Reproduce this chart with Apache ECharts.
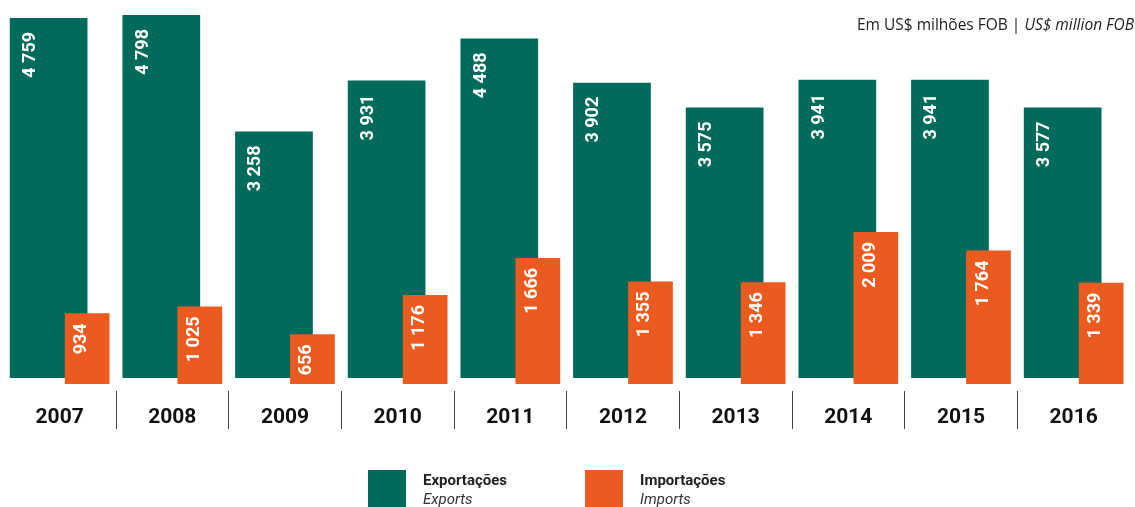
<!DOCTYPE html>
<html lang="pt">
<head>
    <meta charset="UTF-8">
    <title>Exportações e Importações</title>
    <script src="https://cdn.jsdelivr.net/npm/echarts@6/dist/echarts.min.js"></script>
    <style>
        html, body { margin: 0; padding: 0; background: #fff; }
        #chart { width: 1135px; height: 507px; }
    </style>
</head>
<body>
    <div id="chart"></div>
    <script>
        // dados (US$ milhões FOB)
        var years = ['2007', '2008', '2009', '2010', '2011', '2012', '2013', '2014', '2015', '2016'];
        var exportsData = [4759, 4798, 3258, 3931, 4488, 3902, 3575, 3941, 3941, 3577];
        var importsData = [934, 1025, 656, 1176, 1666, 1355, 1346, 2009, 1764, 1339];

        var green = '#006b5a';
        var orange = '#eb5b1f';

        // separador de milhares com espaço
        function fmt(p) {
            return String(p.value).replace(/\B(?=(\d{3})+(?!\d))/g, ' ');
        }

        var legendRich = {
            b: { fontSize: 15, fontWeight: 'bold', color: '#222', lineHeight: 19 },
            i: { fontSize: 15, fontStyle: 'italic', color: '#333', lineHeight: 19 }
        };

        var chart = echarts.init(document.getElementById('chart'));

        var option = {
            animation: false,
            textStyle: { fontFamily: 'Roboto' },
            title: {
                right: 1,
                top: 18,
                padding: 0,
                text: '{n|Em US$ milhões FOB | }{i|US$ million FOB}',
                textStyle: {
                    fontWeight: 'normal',
                    rich: {
                        n: { fontSize: 15.5, color: '#222', fontWeight: 'normal', fontFamily: 'Open Sans' },
                        i: { fontSize: 15.5, color: '#222', fontWeight: 'normal', fontStyle: 'italic', fontFamily: 'Open Sans' }
                    }
                }
            },
            legend: [{
                data: ['Exportações'],
                left: 368,
                top: 470,
                padding: 0,
                icon: 'rect',
                itemWidth: 38,
                itemHeight: 37,
                formatter: function (n) { return '{b|Exportações}\n{i|Exports}'; },
                textStyle: { padding: [4, 0, 0, 12], rich: legendRich }
            }, {
                data: ['Importações'],
                left: 585,
                top: 470,
                padding: 0,
                icon: 'rect',
                itemWidth: 38,
                itemHeight: 37,
                formatter: function (n) { return '{b|Importações}\n{i|Imports}'; },
                textStyle: { padding: [4, 0, 0, 12], rich: legendRich }
            }],
            grid: [
                { left: 3.3, right: 5, top: 15, bottom: 123 },
                { left: 3.3, right: 5, top: 391, height: 38 }
            ],
            xAxis: [{
                type: 'category',
                gridIndex: 0,
                data: years,
                axisLine: { show: false },
                axisTick: { show: false },
                axisLabel: {
                    margin: 23,
                    fontSize: 21,
                    fontWeight: 'bold',
                    color: '#111'
                }
            }, {
                type: 'category',
                gridIndex: 1,
                data: years,
                axisLine: { show: false },
                axisTick: { show: false },
                axisLabel: { show: false },
                splitLine: {
                    show: true,
                    showMinLine: false,
                    showMaxLine: false,
                    lineStyle: { color: '#444', width: 1 }
                }
            }],
            yAxis: [
                { type: 'value', gridIndex: 0, min: -79, max: 4798, show: false },
                { type: 'value', gridIndex: 0, min: 0, max: 4877, show: false },
                { type: 'value', gridIndex: 1, show: false }
            ],
            series: [{
                name: 'Exportações',
                type: 'bar',
                xAxisIndex: 0,
                yAxisIndex: 0,
                data: exportsData,
                barWidth: 77.7,
                barGap: '-29.2%',
                itemStyle: { color: green },
                label: {
                    show: true,
                    position: 'insideTop',
                    distance: 14,
                    rotate: 90,
                    align: 'right',
                    verticalAlign: 'middle',
                    offset: [0, -18],
                    color: '#fff',
                    fontSize: 18,
                    fontWeight: 'bold',
                    formatter: fmt
                }
            }, {
                name: 'Importações',
                type: 'bar',
                xAxisIndex: 0,
                yAxisIndex: 1,
                data: importsData,
                barWidth: 44.7,
                itemStyle: { color: orange },
                label: {
                    show: true,
                    position: 'insideTop',
                    distance: 10,
                    rotate: 90,
                    align: 'right',
                    verticalAlign: 'middle',
                    offset: [0, -5.5],
                    color: '#fff',
                    fontSize: 18,
                    fontWeight: 'bold',
                    formatter: fmt
                }
            }]
        };

        chart.setOption(option);
    </script>
</body>
</html>
